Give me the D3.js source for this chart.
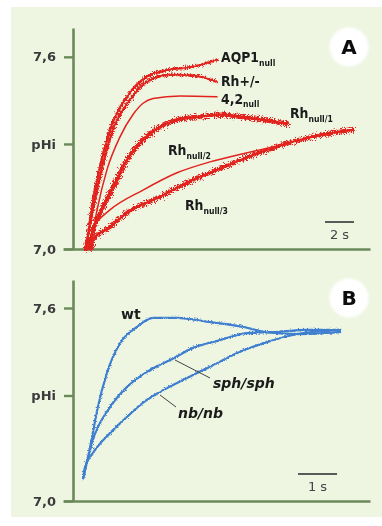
<!DOCTYPE html>
<html><head><meta charset="utf-8">
<script src="https://cdn.jsdelivr.net/npm/d3@7"></script>
<style>body{margin:0;background:#fff}svg{display:block}</style>
</head><body><svg id="c" width="382" height="526"></svg>
<script>
// ---------- Panel A data (time in s, pHi) ----------
const aqp1T   = [0.83,0.97,1.38,1.86,2.55,3.72,5.10,6.48,8.28,9.93];
const aqp1P   = [7.000,7.028,7.153,7.256,7.372,7.475,7.538,7.559,7.569,7.591];
const rhHetT  = [0.83,1.03,1.52,2.07,2.76,3.93,5.10,6.69,8.41,9.93];
const rhHetP  = [7.000,7.044,7.153,7.263,7.372,7.466,7.522,7.544,7.541,7.522];
const p42T    = [1.17,1.66,2.34,3.24,4.14,4.83,5.52,7.38,9.93];
const p42P    = [7.000,7.122,7.247,7.350,7.420,7.455,7.470,7.478,7.475];
const rhN1T   = [1.03,1.38,2.07,3.03,3.72,4.83,6.00,7.17,8.76,10.14,12.21,14.76];
const rhN1P   = [7.000,7.059,7.131,7.216,7.278,7.341,7.381,7.403,7.413,7.419,7.409,7.391];
const rhN2T   = [0.83,1.00,1.38,2.55,4.83,7.17,9.45,11.50,13.40,15.00];
const rhN2P   = [7.003,7.040,7.069,7.122,7.184,7.238,7.272,7.295,7.315,7.331];
const rhN3T   = [1.31,1.38,2.55,3.72,6.00,8.28,9.93,11.72,13.38,15.66,17.93,19.31];
const rhN3P   = [7.000,7.028,7.069,7.113,7.163,7.216,7.247,7.281,7.309,7.341,7.363,7.372];
// ---------- Panel B data ----------
const wtT  = [0.26,0.44,0.62,0.87,1.21,1.64,2.05,2.67,3.51,4.36,4.97,5.82,6.85];
const wtP  = [7.071,7.168,7.283,7.398,7.491,7.541,7.569,7.569,7.556,7.541,7.525,7.519,7.525];
const sphT = [0.26,0.51,0.95,1.38,1.97,2.49,3.08,3.77,4.46,5.13,6.00,6.85];
const sphP = [7.071,7.190,7.292,7.354,7.407,7.438,7.476,7.500,7.522,7.525,7.532,7.532];
const nbT  = [0.26,0.31,0.51,0.95,1.38,1.79,2.23,2.82,3.51,4.21,4.97,5.64,6.85];
const nbP  = [7.071,7.106,7.149,7.211,7.261,7.305,7.339,7.376,7.417,7.460,7.494,7.516,7.532];
// ---------- Ticks ----------
const yTickVals = [7.0, 7.328, 7.6];
const yTickLabels = ["7,0", "pHi", "7,6"];

const svg = d3.select("#c");
const RED = "#e2231f", BLUE = "#3f7fcf", AXIS = "#6a8a5a", TXT = "#3a3a3a";
const FONT = "'DejaVu Sans', sans-serif";

const defs = svg.append("defs");
function noiseFilter(id, scale, freq, seed, blur) {
  const f = defs.append("filter").attr("id", id).attr("filterUnits","userSpaceOnUse")
    .attr("x",0).attr("y",0).attr("width",382).attr("height",526);
  f.append("feTurbulence").attr("type","fractalNoise").attr("baseFrequency",freq)
    .attr("numOctaves",2).attr("seed",seed).attr("result","n");
  f.append("feDisplacementMap").attr("in","SourceGraphic").attr("in2","n")
    .attr("scale",scale).attr("xChannelSelector","R").attr("yChannelSelector","G").attr("result","d");
  f.append("feGaussianBlur").attr("in","d").attr("stdDeviation",blur);
}
noiseFilter("nThick", 9, "1.1 0.7", 2, 0.45);
noiseFilter("nMed", 6, "1.1 0.7", 5, 0.4);
noiseFilter("nBlue", 4, "1.0 0.7", 7, 0.3);
const soft = defs.append("filter").attr("id","soft");
soft.append("feGaussianBlur").attr("stdDeviation",0.4);
const cblur = defs.append("filter").attr("id","cblur");
cblur.append("feGaussianBlur").attr("stdDeviation",1.2);

svg.append("rect").attr("x",11).attr("y",7).attr("width",371).attr("height",510).attr("fill","#eef6e2");

function panel(cfg) {
  const g = svg.append("g");
  const x = d3.scaleLinear().domain(cfg.xDom).range([63, 370]);
  const y = d3.scaleLinear().domain([7.0, cfg.yTop]).range([cfg.y0, cfg.y1]);

  const ay = g.append("g").attr("transform", `translate(73,0)`)
    .call(d3.axisLeft(y).tickValues(yTickVals).tickSize(9).tickSizeOuter(0)
      .tickFormat((d,i)=>yTickLabels[i]));
  ay.select(".domain").attr("stroke", AXIS).attr("stroke-width", 2.6);
  ay.selectAll(".tick line").attr("stroke", AXIS).attr("stroke-width", 2.4);
  ay.selectAll(".tick text").attr("fill", TXT).attr("font-family", FONT)
    .attr("font-size", 13).attr("font-weight", "bold").attr("x", -17).attr("filter","url(#soft)");
  const ax = g.append("g").attr("transform", `translate(0,${cfg.y0})`)
    .call(d3.axisBottom(x).tickValues([]).tickSizeOuter(0));
  ax.select(".domain").attr("stroke", AXIS).attr("stroke-width", 2.6);

  const line = d3.line().x(d=>x(d[0])).y(d=>y(d[1])).curve(d3.curveMonotoneX);
  cfg.series.forEach(s => {
    const pts = s.t.map((t,i)=>[t, s.p[i]]);
    if (s.filter) {
      g.append("path").attr("d", line(pts)).attr("fill","none")
        .attr("stroke", s.color).attr("stroke-width", s.w * 0.55)
        .attr("stroke-linecap","round").attr("filter","url(#soft)");
    }
    g.append("path").attr("d", line(pts)).attr("fill","none")
      .attr("stroke", s.color).attr("stroke-width", s.w)
      .attr("stroke-linecap","round").attr("stroke-linejoin","round")
      .attr("filter", s.filter ? `url(#${s.filter})` : "url(#soft)");
  });

  g.append("line").attr("x1", x(cfg.bar[0])).attr("x2", x(cfg.bar[0] + cfg.bar[1]))
    .attr("y1", cfg.barY).attr("y2", cfg.barY).attr("stroke", "#5a5a5a").attr("stroke-width", 2);
  g.append("text").attr("x", x(cfg.bar[0] + cfg.bar[1]/2)).attr("y", cfg.barY + 17)
    .attr("text-anchor","middle").attr("font-family", FONT).attr("font-size", 13)
    .attr("fill", "#444").attr("filter","url(#soft)").text(cfg.barLabel);

  g.append("circle").attr("cx", 349).attr("cy", cfg.circY).attr("r", 19.5)
    .attr("fill","#fff").attr("filter","url(#cblur)");
  g.append("text").attr("x", 349).attr("y", cfg.circY + 7).attr("text-anchor","middle")
    .attr("font-family", FONT).attr("font-weight","bold").attr("font-size", 20)
    .attr("fill","#111").attr("filter","url(#soft)").text(cfg.letter);
}

panel({
  xDom: [-10/14.5, 297/14.5], yTop: 7.69, y0: 249, y1: 28,
  bar: [17.38, 2], barY: 222, barLabel: "2 s", circY: 47, letter: "A",
  series: [
    {t: rhN3T, p: rhN3P, color: RED, w: 4, filter: "nThick"},
    {t: rhN2T, p: rhN2P, color: RED, w: 1.5},
    {t: rhN1T, p: rhN1P, color: RED, w: 4.5, filter: "nThick"},
    {t: p42T,  p: p42P,  color: RED, w: 1.5},
    {t: rhHetT, p: rhHetP, color: RED, w: 2.6, filter: "nMed"},
    {t: aqp1T, p: aqp1P, color: RED, w: 2.6, filter: "nMed"}
  ]
});

panel({
  xDom: [-10/39, 297/39], yTop: 7.687, y0: 501, y1: 280,
  bar: [5.77, 1], barY: 474, barLabel: "1 s", circY: 298, letter: "B",
  series: [
    {t: nbT,  p: nbP,  color: BLUE, w: 2.2, filter: "nBlue"},
    {t: sphT, p: sphP, color: BLUE, w: 2.2, filter: "nBlue"},
    {t: wtT,  p: wtP,  color: BLUE, w: 2.2, filter: "nBlue"}
  ]
});

// condensed bold labels (panel A)
function labelA(x, y, main, sub) {
  const t = svg.append("text").attr("transform", `translate(${x},${y}) scale(0.86,1)`)
    .attr("font-family", FONT).attr("font-weight","bold").attr("font-size", 14.5)
    .attr("fill", "#1a1a1a").attr("filter","url(#soft)");
  t.append("tspan").text(main);
  if (sub) t.append("tspan").attr("font-size", 9).attr("dy", 3.5).text(sub);
}
labelA(221, 62, "AQP1", "null");
labelA(221, 86, "Rh+/-", null);
labelA(221, 103.5, "4,2", "null");
labelA(290, 118, "Rh", "null/1");
labelA(168, 155, "Rh", "null/2");
labelA(185, 210, "Rh", "null/3");

function labelB(x, y, txt, italic) {
  svg.append("text").attr("x", x).attr("y", y).attr("font-family", FONT)
    .attr("font-weight","bold").attr("font-size", 14).attr("fill","#1a1a1a")
    .attr("font-style", italic ? "italic" : "normal").attr("filter","url(#soft)").text(txt);
}
labelB(121, 319, "wt", false);
labelB(213, 388, "sph/sph", true);
labelB(178, 418, "nb/nb", true);
svg.append("line").attr("x1",175).attr("y1",360).attr("x2",210).attr("y2",378).attr("stroke","#444").attr("stroke-width",1);
svg.append("line").attr("x1",160).attr("y1",395).attr("x2",176).attr("y2",407).attr("stroke","#444").attr("stroke-width",1);
</script></body></html>
